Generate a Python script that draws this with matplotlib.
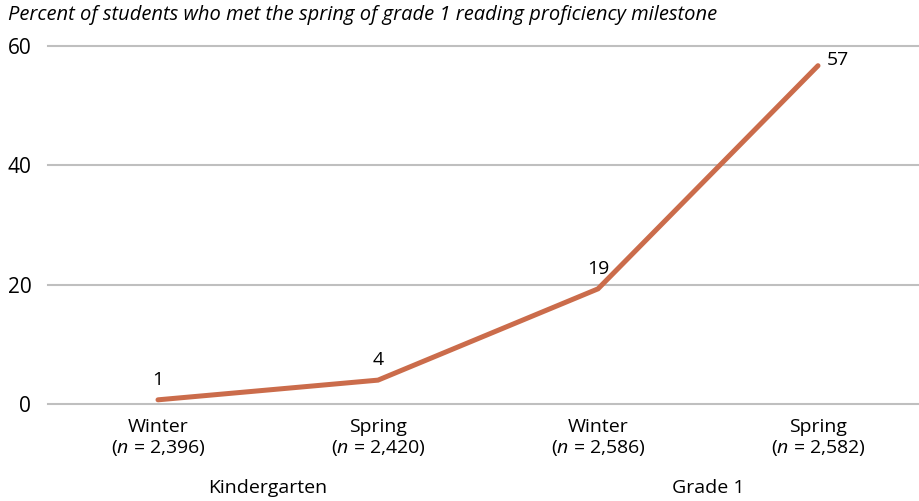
import matplotlib
matplotlib.use("Agg")
import matplotlib.pyplot as plt

plt.rcParams['font.family'] = ['Open Sans', 'DejaVu Sans']
plt.rcParams['mathtext.fontset'] = 'custom'
plt.rcParams['mathtext.rm'] = 'Open Sans'
plt.rcParams['mathtext.it'] = 'Open Sans:italic'

# data
seasons = ['Winter', 'Spring', 'Winter', 'Spring']
n_counts = ['2,396', '2,420', '2,586', '2,582']
grades = ['Kindergarten', 'Grade 1']
pct = [0.7, 4.0, 19.3, 56.7]
pct_labels = ['1', '4', '19', '57']
yticks = [0, 20, 40, 60]

line_color = '#CB6C4B'
grid_color = '#BFBFBF'

fig = plt.figure(figsize=(9.2, 5.01), dpi=100)
ax = fig.add_axes([48 / 920, 97 / 501, 880 / 920, 358 / 501])

x = list(range(len(pct)))
ax.plot(x, pct, color=line_color, lw=3.6, solid_capstyle='round', solid_joinstyle='miter', zorder=3)

ax.set_xlim(-0.5, 3.5)
ax.set_ylim(0, 60)
ax.set_yticks(yticks)
ax.set_yticklabels([str(v) for v in yticks], fontsize=15)
ax.tick_params(axis='y', length=0, pad=12)
ax.set_xticks(x)
ax.set_xticklabels([f"{s}\n($\\it{{n}}$ = {c})" for s, c in zip(seasons, n_counts)],
                   fontsize=14, linespacing=1.15)
ax.tick_params(axis='x', length=0, pad=10)

for v in yticks:
    ax.axhline(v, color=grid_color, lw=1.5, zorder=1, clip_on=False)
for s in ax.spines.values():
    s.set_visible(False)

# data labels
for i, (v, lab) in enumerate(zip(pct, pct_labels)):
    if i == len(pct) - 1:
        ax.annotate(lab, (i, v), xytext=(6, 4), textcoords='offset points',
                    ha='left', va='center', fontsize=14)
    else:
        ax.annotate(lab, (i, v), xytext=(0, 8), textcoords='offset points',
                    ha='center', va='bottom', fontsize=14)

# group labels
for g, name in enumerate(grades):
    ax.text(g * 2 + 0.5, -0.235, name, transform=ax.get_xaxis_transform(),
            ha='center', va='center', fontsize=14)

fig.text(8 / 920, 1 - 15 / 501, 'Percent of students who met the spring of grade 1 reading proficiency milestone',
         ha='left', va='center', fontsize=14.5, style='italic')

fig.savefig('out.png', dpi=100)
